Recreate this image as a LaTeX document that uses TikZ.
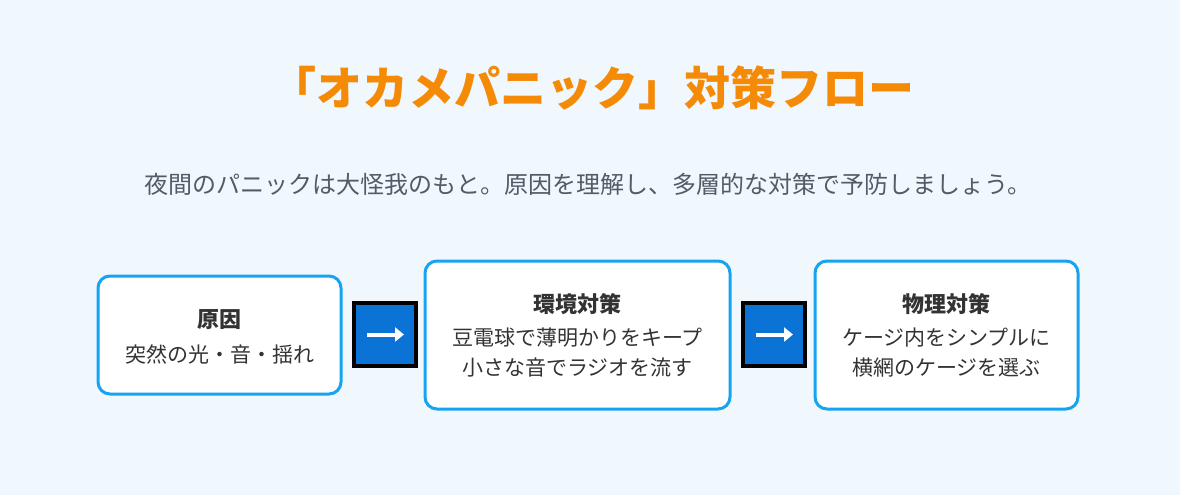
\documentclass[tikz,border=0pt]{standalone}
\usepackage{fontspec}
\usetikzlibrary{arrows.meta}
\setmainfont{Noto Sans CJK JP}
\definecolor{bg}{HTML}{F0F7FD}
\definecolor{bd}{HTML}{16A3F2}
\definecolor{tt}{HTML}{F58A07}
\definecolor{sub}{HTML}{555B66}
\definecolor{ab}{HTML}{0B72D6}
\definecolor{tx}{HTML}{333333}
\begin{document}
\begin{tikzpicture}[x=1pt,y=-1pt,
  card/.style={draw=bd,line width=3pt,fill=white,rounded corners=12pt},
  arr/.style={draw=black,line width=4pt,fill=ab}]
\fill[bg] (0,0) rectangle (1180,495);
\useasboundingbox (0,0) rectangle (1180,495);
\node[text=tt,font=\fontsize{46}{50}\selectfont\bfseries] (title) at (592,88) {「オカメパニック」対策フロー};
\node[text=sub,font=\fontsize{24}{28}\selectfont] (sub) at (588,184) {夜間のパニックは大怪我のもと。原因を理解し、多層的な対策で予防しましょう。};
\path[card] (98,276) rectangle (341,394);
\path[card] (425,261) rectangle (730,409);
\path[card] (815,261) rectangle (1078,409);
\node[font=\fontsize{22}{26}\selectfont\bfseries,text=tx] (t1) at (219.5,320) {原因};
\node[font=\fontsize{21}{24}\selectfont,text=tx] (d1) at (219.5,354) {突然の光・音・揺れ};
\node[font=\fontsize{22}{26}\selectfont\bfseries,text=tx] (t2) at (577.5,304) {環境対策};
\node[font=\fontsize{21}{24}\selectfont,text=tx] (d2) at (577.5,338) {豆電球で薄明かりをキープ};
\node[font=\fontsize{21}{24}\selectfont,text=tx] (e2) at (577.5,368) {小さな音でラジオを流す};
\node[font=\fontsize{22}{26}\selectfont\bfseries,text=tx] (t3) at (946.5,304) {物理対策};
\node[font=\fontsize{21}{24}\selectfont,text=tx] (d3) at (946.5,338) {ケージ内をシンプルに};
\node[font=\fontsize{21}{24}\selectfont,text=tx] (e3) at (946.5,368) {横網のケージを選ぶ};
\foreach \x/\n in {385/a1,774/a2}{
  \path[arr] (\x-31,303) rectangle (\x+31,366);
  \coordinate (\n s) at (\x-18,334.5);
  \coordinate (\n e) at (\x+19,334.5);
  \draw[white,line width=4pt,-{Triangle[length=9pt,width=14pt]}] (\n s) -- (\n e);
}
\end{tikzpicture}
\end{document}
